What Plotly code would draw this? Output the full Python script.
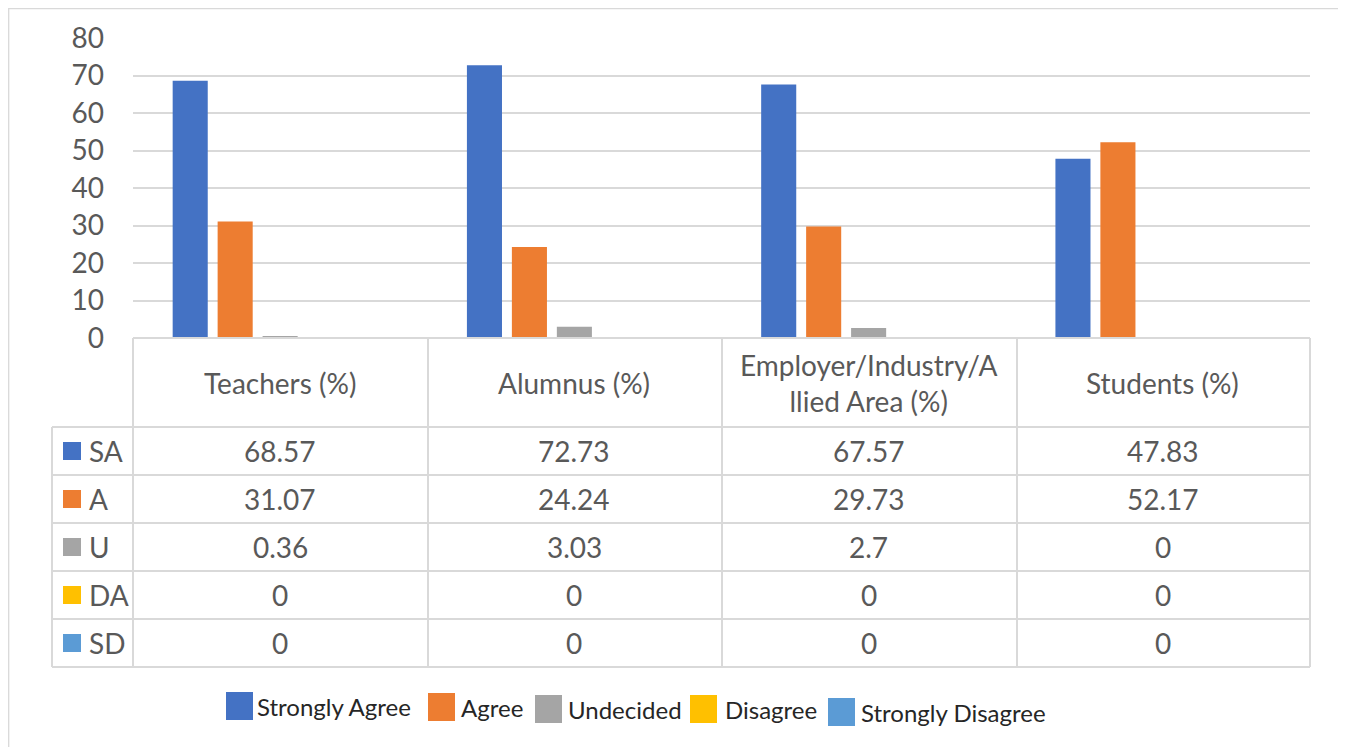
import plotly.graph_objects as go

categories = ["Teachers (%)", "Alumnus (%)", "Employer/Industry/A<br>llied Area (%)", "Students (%)"]
series_names = ["Strongly Agree", "Agree", "Undecided", "Disagree", "Strongly Disagree"]
series_short = ["SA", "A", "U", "DA", "SD"]
sa = [68.57, 72.73, 67.57, 47.83]
ag = [31.07, 24.24, 29.73, 52.17]
un = [0.36, 3.03, 2.7, 0]
da = [0, 0, 0, 0]
sd = [0, 0, 0, 0]
series_values = [sa, ag, un, da, sd]
colors = ["#4472C4", "#ED7D31", "#A5A5A5", "#FFC000", "#5B9BD5"]
y_ticks = [0, 10, 20, 30, 40, 50, 60, 70, 80]

OFF = 8  # page body margin
W, H = 1346 - OFF, 747 - OFF
L, R, T, B = 133, 1310, 38, 667  # paper area in reference px
AX_BOTTOM = 338
FONT = "Lato"
TXT = "#595959"
GRID = "#D9D9D9"


def px_x(p):
    return (p - L) / (R - L)


def px_y(p):
    return (B - p) / (B - T)


fig = go.Figure()
for name, vals, col in zip(series_names, series_values, colors):
    fig.add_trace(go.Bar(x=categories, y=vals, name=name, marker_color=col,
                         marker_line_width=0, showlegend=False))

shapes = []
annotations = []

# outer chart border
shapes.append(dict(type="rect", xref="paper", yref="paper",
                   x0=px_x(8.7), x1=px_x(1340), y0=px_y(760), y1=px_y(8.7),
                   line=dict(color="#D9D9D9", width=1.3), layer="below"))

# table grid
row_tops = [427, 475, 523, 571, 619, 667]
col_x = [133, 428, 722, 1017, 1310]
line = dict(color=GRID, width=2)
for cx in col_x:
    shapes.append(dict(type="line", xref="paper", yref="paper",
                       x0=px_x(cx), x1=px_x(cx), y0=px_y(AX_BOTTOM), y1=px_y(667), line=line))
shapes.append(dict(type="line", xref="paper", yref="paper",
                   x0=px_x(52), x1=px_x(52), y0=px_y(427), y1=px_y(667), line=line))
shapes.append(dict(type="line", xref="paper", yref="paper",
                   x0=px_x(133), x1=px_x(1310), y0=px_y(AX_BOTTOM), y1=px_y(AX_BOTTOM), line=line))
for ry in row_tops:
    shapes.append(dict(type="line", xref="paper", yref="paper",
                       x0=px_x(52), x1=px_x(1310), y0=px_y(ry), y1=px_y(ry), line=line))

TS = 28
for c in categories:
    annotations.append(dict(x=c, xref="x", y=px_y(382.5), yref="paper", text=c,
                            showarrow=False, font=dict(family=FONT, size=TS, color=TXT),
                            xanchor="center", yanchor="middle"))
for i, (short, vals, col) in enumerate(zip(series_short, series_values, colors)):
    yc = (row_tops[i] + row_tops[i + 1]) / 2
    shapes.append(dict(type="rect", xref="paper", yref="paper",
                       x0=px_x(63), x1=px_x(81), y0=px_y(yc + 9), y1=px_y(yc - 9),
                       fillcolor=col, line=dict(width=0)))
    annotations.append(dict(x=px_x(87), xref="paper", y=px_y(yc), yref="paper", text=short,
                            showarrow=False, font=dict(family=FONT, size=TS, color=TXT),
                            xanchor="left", yanchor="middle"))
    for c, v in zip(categories, vals):
        annotations.append(dict(x=c, xref="x", y=px_y(yc), yref="paper", text=f"{v:g}",
                                showarrow=False, font=dict(family=FONT, size=TS, color=TXT),
                                xanchor="center", yanchor="middle"))

# manual legend
legend_pos = [(226, 255), (428, 459), (535, 566), (690, 723), (828, 859)]
leg_y = [706, 707, 709, 709, 712]
for (bx, tx), ly, name, col in zip(legend_pos, leg_y, series_names, colors):
    shapes.append(dict(type="rect", xref="paper", yref="paper",
                       x0=px_x(bx), x1=px_x(bx + 27), y0=px_y(ly + 14), y1=px_y(ly - 14),
                       fillcolor=col, line=dict(width=0)))
    annotations.append(dict(x=px_x(tx), xref="paper", y=px_y(ly), yref="paper", text=name,
                            showarrow=False, font=dict(family=FONT, size=24, color="#262626"),
                            xanchor="left", yanchor="middle"))

fig.update_layout(
    width=W, height=H,
    margin=dict(l=L - OFF, r=W - (R - OFF), t=T - OFF, b=H - (B - OFF)),
    paper_bgcolor="white", plot_bgcolor="white",
    barmode="group", bargap=0.236, bargroupgap=0.22,
    font=dict(family=FONT, color=TXT),
    shapes=shapes, annotations=annotations,
    showlegend=False,
    xaxis=dict(showticklabels=False, showgrid=False, zeroline=False, showline=False,
               ticks=""),
    yaxis=dict(domain=[px_y(AX_BOTTOM), 1], range=[0, 80], tickvals=y_ticks,
               showgrid=True, gridcolor=GRID, gridwidth=2, zeroline=False,
               showline=False, ticks="", ticklabelstandoff=28,
               tickfont=dict(family=FONT, size=TS, color=TXT)),
)

fig.write_html("out.html")
